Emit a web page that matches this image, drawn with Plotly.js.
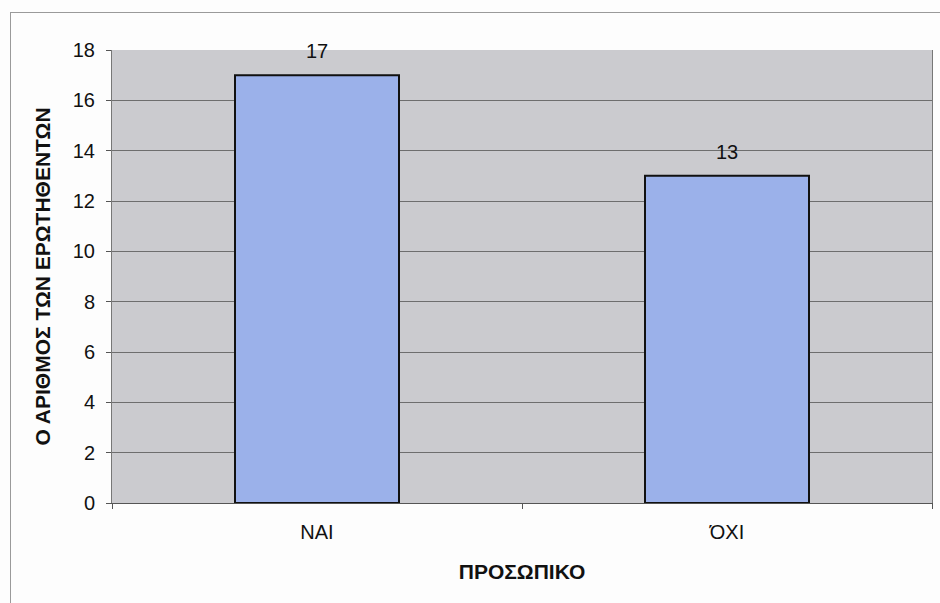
<!DOCTYPE html>
<html>
<head>
<meta charset="utf-8">
<script src="https://cdn.plot.ly/plotly-3.0.1.min.js"></script>
<style>
html,body{margin:0;padding:0;background:#fdfdfd;}
#frame{position:absolute;left:10px;top:12px;width:940px;height:600px;border-left:1px solid #9a9a9a;border-top:1px solid #9a9a9a;}
#chart{position:absolute;left:0;top:0;width:940px;height:603px;}
</style>
</head>
<body>
<div id="frame"></div>
<div id="chart"></div>
<script>
const categories = ["ΝΑΙ", "ΌΧΙ"];
const values = [17, 13];
const yTicks = [0, 2, 4, 6, 8, 10, 12, 14, 16, 18];
const xTitle = "ΠΡΟΣΩΠΙΚΟ";
const yTitle = "Ο ΑΡΙΘΜΟΣ ΤΩΝ ΕΡΩΤΗΘΕΝΤΩΝ";

const FONT = 'Liberation Sans, Arial, sans-serif';

const trace = {
  type: 'bar',
  x: categories,
  y: values,
  marker: {color: '#9bb1ea', line: {color: '#111', width: 2}},
  width: 0.4,
  hoverinfo: 'none'
};

const labels = categories.map((c, i) => ({
  x: c, y: values[i], xref: 'x', yref: 'y',
  text: String(values[i]), showarrow: false,
  yanchor: 'bottom', yshift: 11,
  font: {family: FONT, size: 20, color: '#111'}
}));

const layout = {
  width: 940, height: 603,
  margin: {l: 112, r: 8, t: 50, b: 100},
  paper_bgcolor: 'rgba(0,0,0,0)',
  plot_bgcolor: '#cbcbcf',
  showlegend: false,
  font: {family: FONT, color: '#111'},
  annotations: labels,
  xaxis: {
    type: 'category',
    range: [-0.5, 1.5],
    showgrid: false,
    ticks: 'outside', tickson: 'boundaries', ticklen: 5, tickcolor: '#555',
    showline: true, linecolor: '#555', linewidth: 1,
    ticklabelstandoff: 11,
    tickfont: {size: 20, color: '#111'},
    title: {text: '<b>' + xTitle + '</b>', font: {size: 21, color: '#111'}, standoff: 22}
  },
  yaxis: {
    range: [0, 18],
    tickvals: yTicks,
    ticktext: yTicks.map(String),
    showgrid: true, gridcolor: '#6e6e6e', gridwidth: 1,
    zeroline: false,
    ticks: 'outside', ticklen: 5, tickcolor: '#555',
    showline: true, linecolor: '#777', linewidth: 1, mirror: true,
    ticklabelstandoff: 7,
    tickfont: {size: 20, color: '#111'},
    title: {text: '<b>' + yTitle + '</b>', font: {size: 21, color: '#111'}, standoff: 16}
  }
};

Plotly.newPlot('chart', [trace], layout, {displayModeBar: false, staticPlot: true});
</script>
</body>
</html>
